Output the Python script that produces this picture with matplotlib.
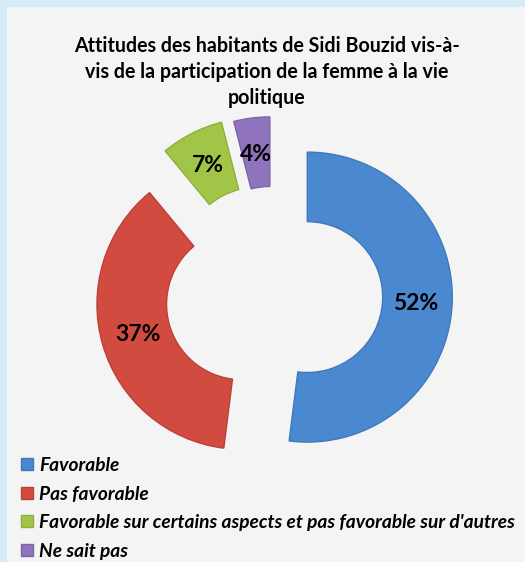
import numpy as np
import matplotlib.pyplot as plt
from matplotlib.patches import Rectangle

categories = ['Favorable', 'Pas favorable',
              "Favorable sur certains aspects et pas favorable sur d'autres",
              'Ne sait pas']
values = [52, 37, 7, 4]
colors = ['#4a88d0', '#d24b40', '#a2c548', '#8f74bd']
edges = ['#4178bb', '#bb4138', '#8fb03c', '#7d64a8']
explode = [0.23, 0.23, 0.25, 0.23]
title = "Attitudes des habitants de Sidi Bouzid vis-à-\nvis de la participation de la femme à la vie\npolitique"

W, H = 525, 562
fig = plt.figure(figsize=(W / 100, H / 100), dpi=100)
fig.patch.set_facecolor('#d4ebf8')
fig.add_artist(Rectangle((7 / W, 0), 1 - 7 / W, 1 - 7 / H, transform=fig.transFigure,
                         facecolor='#f4f4f4', edgecolor='none', zorder=0))

# donut centre at (274, 295) px, radius 145 px
cx, cy, R = 274, 295, 145
ax = fig.add_axes([0, 0, 1, 1])
ax.patch.set_alpha(0)
wedges, texts, autotexts = ax.pie(values, colors=colors, explode=explode, startangle=90,
                                  counterclock=False, radius=1, autopct='%d%%',
                                  pctdistance=0.75,
                                  wedgeprops=dict(width=0.48, linewidth=1.0),
                                  textprops=dict(fontsize=16.5, fontweight='bold',
                                                 family='Lato', color='black'))
for w, e in zip(wedges, edges):
    w.set_edgecolor(e)
ax.set_aspect('auto')
ax.set_xlim(-cx / R, (W - cx) / R)
ax.set_ylim(-(H - cy) / R, cy / R)
ax.axis('off')

fig.text(267 / W, 1 - 72 / H, title, ha='center', va='center', fontsize=14.1,
         fontweight='bold', family='Lato', linespacing=1.36)

fig.legend(wedges, categories, loc='upper left', bbox_to_anchor=(21 / W, 1 - 457 / H),
           frameon=False, prop=dict(family='Lato', weight='bold', style='italic', size=13.8),
           handlelength=0.6, handleheight=0.6, handletextpad=0.35, labelspacing=0.6,
           borderpad=0, borderaxespad=0)

fig.savefig('out.png', dpi=100, facecolor=fig.get_facecolor())
